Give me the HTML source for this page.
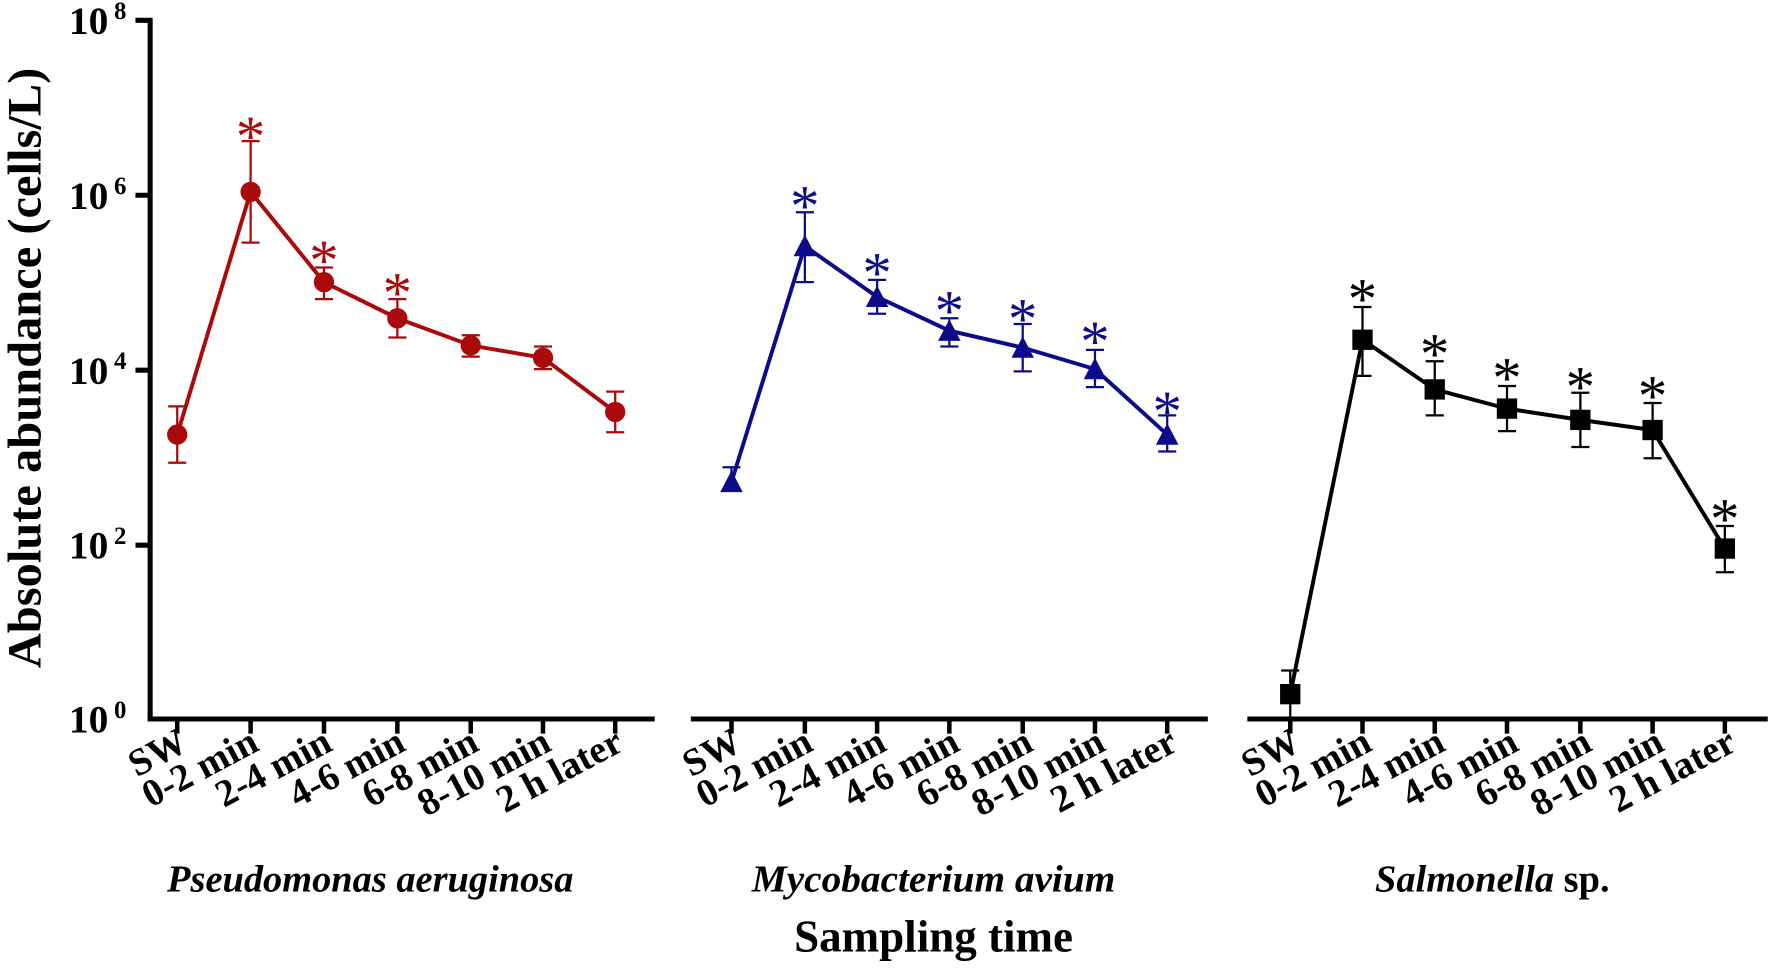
<!DOCTYPE html>
<html><head><style>html,body{margin:0;padding:0;background:#fff;}svg{display:block}</style></head>
<body>
<svg width="1770" height="968" viewBox="0 0 1568 857.6" preserveAspectRatio="none" xmlns="http://www.w3.org/2000/svg" font-family="Liberation Serif, serif">
<g stroke="#000" stroke-width="4.5" fill="none">
<line x1="133" y1="16" x2="133" y2="639"/>
<line x1="131" y1="637" x2="580" y2="637"/>
<line x1="612" y1="637" x2="1070" y2="637"/>
<line x1="1105" y1="637" x2="1566" y2="637"/>
<line x1="120" y1="18" x2="135" y2="18"/><line x1="120" y1="173" x2="135" y2="173"/><line x1="120" y1="328" x2="135" y2="328"/><line x1="120" y1="483" x2="135" y2="483"/>
</g>
<g stroke="#000" stroke-width="4">
<path d="M157 637v13M222 637v13M287 637v13M352 637v13M417 637v13M481 637v13M545 637v13"/>
<path d="M648 637v13M713 637v13M777 637v13M841 637v13M906 637v13M970 637v13M1034 637v13"/>
<path d="M1143 637v13M1207 637v13M1271 637v13M1335 637v13M1400 637v13M1464 637v13M1528 637v13"/>
</g>
<g font-weight="bold" font-size="35" text-anchor="end">
<text x="96" y="30">10</text><text x="112" y="17" font-size="22">8</text>
<text x="96" y="185">10</text><text x="112" y="172" font-size="22">6</text>
<text x="96" y="340">10</text><text x="112" y="327" font-size="22">4</text>
<text x="96" y="495">10</text><text x="112" y="482" font-size="22">2</text>
<text x="96" y="649">10</text><text x="112" y="636" font-size="22">0</text>
</g>
<text transform="translate(36,326) rotate(-90)" text-anchor="middle" font-weight="bold" font-size="42" textLength="532" lengthAdjust="spacingAndGlyphs">Absolute abundance (cells/L)</text>
<g font-weight="bold" font-size="34" text-anchor="end">
<g id="lab">
<text transform="translate(168,664) rotate(-28)">SW</text>
<text transform="translate(231,664) rotate(-28)">0-2 min</text>
<text transform="translate(296,664) rotate(-28)">2-4 min</text>
<text transform="translate(361,664) rotate(-28)">4-6 min</text>
<text transform="translate(426,664) rotate(-28)">6-8 min</text>
<text transform="translate(490,664) rotate(-28)">8-10 min</text>
<text transform="translate(554,664) rotate(-28)">2 h later</text>
</g>
<use href="#lab" transform="translate(491,0)"/>
<use href="#lab" transform="translate(986,0)"/>
</g>
<g font-style="italic" font-weight="bold" font-size="34" text-anchor="middle">
<text x="328" y="790" textLength="360" lengthAdjust="spacingAndGlyphs">Pseudomonas aeruginosa</text>
<text x="827" y="790" textLength="322" lengthAdjust="spacingAndGlyphs">Mycobacterium avium</text>
<text x="1322" y="790"><tspan>Salmonella</tspan><tspan font-style="normal"> sp.</tspan></text>
</g>
<text x="827" y="843" text-anchor="middle" font-weight="bold" font-size="40" textLength="247" lengthAdjust="spacingAndGlyphs">Sampling time</text>
<!-- red -->
<g stroke="#aa0a0a" fill="#aa0a0a">
<polyline fill="none" stroke-width="3.5" points="157,385 222,170 287,250 352,282 417,306 481,317 545,365"/>
<g stroke-width="2">
<path d="M157,360V410M149,360h16M149,410h16 M222,125V215M214,125h16M214,215h16 M287,237V265M279,237h16M279,265h16 M352,265V299M344,265h16M344,299h16 M417,297V316M409,297h16M409,316h16 M481,307V327M473,307h16M473,327h16 M545,347V383M537,347h16M537,383h16"/>
</g>
<g stroke="none"><circle cx="157" cy="385" r="9"/><circle cx="222" cy="170" r="9"/><circle cx="287" cy="250" r="9"/><circle cx="352" cy="282" r="9"/><circle cx="417" cy="306" r="9"/><circle cx="481" cy="317" r="9"/><circle cx="545" cy="365" r="9"/></g>
<g stroke="none" font-size="52" text-anchor="middle"><text x="222" y="138">*</text><text x="287" y="248">*</text><text x="352" y="277">*</text></g>
</g>
<!-- blue -->
<g stroke="#0c0c8a" fill="#0c0c8a">
<polyline fill="none" stroke-width="3.5" points="648,427 713,218 777,263 841,293 906,308 970,327 1034,385"/>
<g stroke-width="2">
<path d="M648,414V430M640,414h16 M713,188V250M705,188h16M705,250h16 M777,248V278M769,248h16M769,278h16 M841,282V307M833,282h16M833,307h16 M906,287V329M898,287h16M898,329h16 M970,310V343M962,310h16M962,343h16 M1034,368V400M1026,368h16M1026,400h16"/>
</g>
<g stroke="none">
<polygon points="648,417 638,436 658,436"/><polygon points="713,208 703,227 723,227"/><polygon points="777,253 767,272 787,272"/><polygon points="841,283 831,302 851,302"/><polygon points="906,298 896,317 916,317"/><polygon points="970,317 960,336 980,336"/><polygon points="1034,375 1024,394 1044,394"/>
</g>
<g stroke="none" font-size="52" text-anchor="middle"><text x="713" y="200">*</text><text x="777" y="259">*</text><text x="841" y="293">*</text><text x="906" y="300">*</text><text x="970" y="320">*</text><text x="1034" y="382">*</text></g>
</g>
<!-- black -->
<g stroke="#000" fill="#000">
<polyline fill="none" stroke-width="3.5" points="1143,615 1207,301 1271,345 1335,362 1400,372 1464,381 1528,486"/>
<g stroke-width="2">
<path d="M1143,594V637M1135,594h16 M1207,272V333M1199,272h16M1199,333h16 M1271,320V368M1263,320h16M1263,368h16 M1335,342V382M1327,342h16M1327,382h16 M1400,348V396M1392,348h16M1392,396h16 M1464,357V406M1456,357h16M1456,406h16 M1528,466V507M1520,466h16M1520,507h16"/>
</g>
<g stroke="none"><rect x="1134" y="606" width="18" height="18"/><rect x="1198" y="292" width="18" height="18"/><rect x="1262" y="336" width="18" height="18"/><rect x="1326" y="353" width="18" height="18"/><rect x="1391" y="363" width="18" height="18"/><rect x="1455" y="372" width="18" height="18"/><rect x="1519" y="477" width="18" height="18"/></g>
<g stroke="none" font-size="52" text-anchor="middle"><text x="1207" y="282">*</text><text x="1271" y="331">*</text><text x="1335" y="352">*</text><text x="1400" y="360">*</text><text x="1464" y="368">*</text><text x="1528" y="477">*</text></g>
</g>
</svg>
</body></html>
